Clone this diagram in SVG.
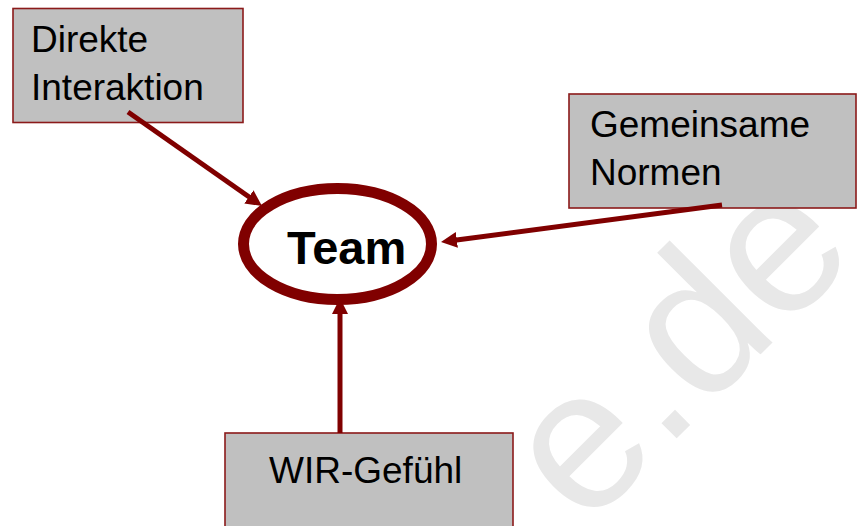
<svg xmlns="http://www.w3.org/2000/svg" width="858" height="526" viewBox="0 0 858 526">
  <style>
    .box { fill: #c0c0c0; stroke: #8b1a1a; stroke-width: 1.6; }
    .lbl { font-family: "Liberation Sans", Arial, sans-serif; font-size: 37px; fill: #000; }
    .team { font-family: "Liberation Sans", Arial, sans-serif; font-size: 47px; font-weight: bold; fill: #000; }
    .conn { stroke: #800000; stroke-width: 5; fill: none; }
    .wm { font-family: "Liberation Sans", Arial, sans-serif; font-size: 200px; fill: #e8e8e8; }
  </style>
  <defs>
    <marker id="arr" viewBox="0 0 16 16" refX="6" refY="8" markerWidth="16" markerHeight="16" markerUnits="userSpaceOnUse" orient="auto">
      <path d="M0,0 L16,8 L0,16 z" fill="#800000"/>
    </marker>
  </defs>
  <rect width="858" height="526" fill="#ffffff"/>
  <text class="wm" transform="translate(585,530) rotate(-45)">e.de</text>

  <g id="direkte-interaktion">
    <rect class="box" x="13" y="8.5" width="230" height="114"/>
    <text class="lbl" x="31" y="52">Direkte</text>
    <text class="lbl" x="31" y="100">Interaktion</text>
  </g>

  <g id="gemeinsame-normen">
    <rect class="box" x="569" y="94" width="287" height="114"/>
    <text class="lbl" x="590" y="137">Gemeinsame</text>
    <text class="lbl" x="590" y="185">Normen</text>
  </g>

  <g id="wir-gefuehl">
    <rect class="box" x="225" y="433" width="288" height="110"/>
    <text class="lbl" x="269" y="483">WIR-Gefühl</text>
  </g>

  <g id="connectors">
    <line class="conn" x1="128" y1="112" x2="253.8" y2="200.3" marker-end="url(#arr)"/>
    <line class="conn" x1="722" y1="205" x2="450.9" y2="240.7" marker-end="url(#arr)"/>
    <line class="conn" x1="340" y1="433" x2="340" y2="308" marker-end="url(#arr)"/>
  </g>

  <g id="team">
    <ellipse cx="337.5" cy="244" rx="94" ry="55.5" fill="none" stroke="#800000" stroke-width="11"/>
    <text class="team" x="287" y="264">Team</text>
  </g>
</svg>
